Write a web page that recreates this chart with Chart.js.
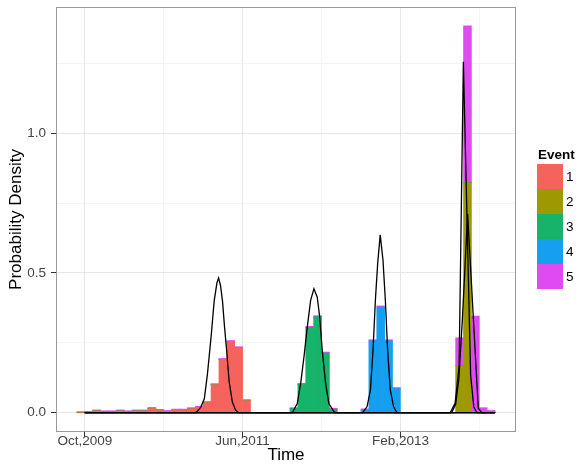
<!DOCTYPE html>
<html>
<head>
<meta charset="utf-8">
<title>Probability density by event</title>
<script src="https://cdn.jsdelivr.net/npm/chart.js@4.4.1/dist/chart.umd.min.js"></script>
<style>
  html, body { margin: 0; padding: 0; background: #fff; overflow: hidden; }
  #wrap { position: relative; width: 577px; height: 472px; }
  #legend { position: absolute; left: 537px; top: 146px; font-family: 'Liberation Sans', Arial, sans-serif; color: #000; }
  #legend .title { font-weight: bold; font-size: 13.5px; line-height: 18px; margin-left: 1px; }
  #legend .row { display: flex; align-items: center; height: 25px; }
  #legend .key { width: 26px; height: 25px; }
  #legend .lab { font-size: 13.5px; margin-left: 3px; }
</style>
</head>
<body>
<div id="wrap">
  <canvas id="chart" width="577" height="472"></canvas>
  <div id="legend"></div>
</div>
<script>
// Histogram bins: one month wide, months counted from Oct 2009 (bin k covers k..k+1)
const binStart = [-1, 0, 1, 2, 3, 4, 5, 6, 7, 8, 9, 10, 11, 12, 13, 14, 15, 16, 17, 18, 19, 20,
                  21, 22, 23, 24, 25,
                  26, 27, 28, 29, 30, 31,
                  32, 33, 34,
                  35, 36, 37, 38, 39,
                  40, 41, 42, 43, 44, 45, 46,
                  47, 48, 49, 50, 51];

// Stacked bar heights per event (probability density)
const event1 = [0, 0.001, 0.006, 0.003, 0.003, 0.006, 0.003, 0.006, 0.006, 0.015, 0.008, 0.004, 0.009, 0.009, 0.014, 0.019, 0.036, 0.100, 0.190, 0.254, 0.232, 0.043,
                0, 0, 0, 0, 0,
                0, 0, 0, 0, 0, 0,
                0, 0, 0,
                0, 0, 0, 0, 0,
                0, 0, 0, 0, 0, 0, 0,
                0, 0, 0, 0, 0];
const event2 = [0, 0, 0, 0, 0, 0, 0, 0, 0, 0, 0, 0, 0, 0, 0, 0, 0, 0, 0, 0, 0, 0,
                0, 0, 0, 0, 0,
                0, 0, 0, 0, 0, 0,
                0, 0, 0,
                0, 0, 0, 0, 0,
                0, 0, 0, 0, 0, 0, 0,
                0.168, 0.823, 0, 0, 0];
const event3 = [0, 0, 0, 0, 0, 0, 0, 0, 0, 0, 0, 0, 0, 0, 0, 0, 0, 0, 0, 0, 0, 0,
                0, 0, 0, 0, 0,
                0.014, 0.101, 0.305, 0.343, 0.213, 0.012,
                0, 0, 0,
                0, 0, 0, 0, 0,
                0, 0, 0, 0, 0, 0, 0,
                0, 0, 0, 0, 0];
const event4 = [0, 0, 0, 0, 0, 0, 0, 0, 0, 0, 0, 0, 0, 0, 0, 0, 0, 0, 0, 0, 0, 0,
                0, 0, 0, 0, 0,
                0, 0, 0, 0, 0, 0,
                0, 0, 0,
                0.010, 0.257, 0.378, 0.257, 0.086,
                0, 0, 0, 0, 0, 0, 0,
                0, 0, 0, 0, 0];
const event5 = [0.004, 0.004, 0.004, 0.004, 0.004, 0.004, 0.004, 0.004, 0.004, 0.004, 0.004, 0.004, 0.004, 0.004, 0.004, 0.004, 0.004, 0.004, 0.004, 0.004, 0.004, 0.004,
                0, 0, 0, 0, 0,
                0.004, 0.004, 0.004, 0.004, 0.004, 0.004,
                0, 0, 0,
                0.004, 0.004, 0.004, 0.004, 0.004,
                0, 0, 0, 0, 0, 0, 0,
                0.100, 0.561, 0.346, 0.018, 0.008];

const eventNames = ['1', '2', '3', '4', '5'];
const eventColors = ['#F5645C', '#9C9A00', '#18B36B', '#149FF0', '#DF4BF1'];

// Fitted density curves (month, density)
const dens1Month = [0, 14.0, 14.3, 14.7, 15.15, 15.55, 16.0, 16.4, 16.75, 16.96, 17.2, 17.45, 17.7, 17.97, 18.3, 18.7, 19.1, 19.5, 52];
const dens1Value = [0, 0, 0.006, 0.02, 0.05, 0.14, 0.27, 0.40, 0.465, 0.482, 0.455, 0.40, 0.31, 0.225, 0.11, 0.038, 0.01, 0, 0];
const dens2Month = [0, 46.3, 46.5, 46.93, 47.44, 47.98, 48.9, 49.3, 49.7, 52];
const dens2Value = [0, 0, 0.01, 0.034, 0.165, 1.255, 0.134, 0.02, 0, 0];
const dens3Month = [0, 26.3, 26.93, 27.36, 27.78, 28.2, 28.62, 29.04, 29.46, 29.77, 30.09, 30.52, 30.93, 31.57, 31.8, 52];
const dens3Value = [0, 0, 0.033, 0.105, 0.20, 0.307, 0.402, 0.443, 0.413, 0.343, 0.224, 0.105, 0.033, 0.004, 0, 0];
const dens4Month = [0, 35.2, 35.77, 36.2, 36.53, 36.83, 37.12, 37.44, 37.79, 38.09, 38.38, 38.72, 39.14, 39.55, 52];
const dens4Value = [0, 0, 0.021, 0.081, 0.224, 0.403, 0.534, 0.636, 0.546, 0.403, 0.224, 0.081, 0.021, 0, 0];
const dens5Month = [0, 46.5, 47.0, 47.4, 47.85, 48.52, 49.87, 50.3, 52];
const dens5Value = [0, 0, 0.03, 0.12, 0.331, 0.711, 0.016, 0, 0];

// Axes
const xRange = [-3.65, 54.65];
const xMajor = [0, 20, 40];
const xMajorLabels = ['Oct,2009', 'Jun,2011', 'Feb,2013'];
const xMinor = [10, 30, 50];
const yRange = [-0.069, 1.451];
const yMajor = [0, 0.5, 1.0];
const yMajorLabels = ['0.0', '0.5', '1.0'];
const yMinor = [0.25, 0.75, 1.25];

const FONT = "'Liberation Sans', Arial, Helvetica, sans-serif";
const GRID_MAJOR = '#e6e6e6';
const GRID_MINOR = '#f4f4f4';

const barSeries = [event1, event2, event3, event4, event5];
const densSeries = [[dens1Month, dens1Value], [dens2Month, dens2Value], [dens3Month, dens3Value],
                    [dens4Month, dens4Value], [dens5Month, dens5Value]];

const datasets = [];
densSeries.forEach(([months, values], i) => {
    datasets.push({
        type: 'line',
        label: 'density ' + eventNames[i],
        data: months.map((m, j) => ({ x: m, y: values[j] })),
        borderColor: '#000',
        borderWidth: 1.3,
        pointRadius: 0,
        tension: 0,
        fill: false,
        stack: 'dens' + i,
        order: 0
    });
});
barSeries.forEach((values, i) => {
    datasets.push({
        type: 'bar',
        label: eventNames[i],
        data: binStart.map((b, j) => ({ x: b + 0.5, y: values[j] })),
        backgroundColor: eventColors[i],
        borderWidth: 0,
        barPercentage: 1,
        categoryPercentage: 1,
        stack: 'hist',
        order: 1
    });
});

// grey frame round the plotting panel
const panelFrame = {
    id: 'panelFrame',
    afterDatasetsDraw(chart) {
        const { ctx, chartArea: a } = chart;
        ctx.save();
        ctx.strokeStyle = '#999';
        ctx.lineWidth = 1;
        ctx.strokeRect(Math.round(a.left) + 0.5, Math.round(a.top) + 0.5,
                       Math.round(a.right - a.left) - 1, Math.round(a.bottom - a.top) - 1);
        ctx.restore();
    }
};

new Chart(document.getElementById('chart'), {
    type: 'bar',
    data: { datasets },
    plugins: [panelFrame],
    options: {
        responsive: false,
        devicePixelRatio: 1,
        animation: false,
        layout: { padding: { left: 0, top: 7, right: 61, bottom: 0 } },
        plugins: { legend: { display: false }, tooltip: { enabled: false } },
        scales: {
            x: {
                type: 'linear',
                min: xRange[0],
                max: xRange[1],
                offset: false,
                afterBuildTicks: s => {
                    s.ticks = xMajor.concat(xMinor).sort((a, b) => a - b).map(v => ({ value: v }));
                },
                afterFit: s => {
                    s.height = 40;
                    s.paddingLeft = 0;
                    s.paddingRight = 0;
                },
                ticks: {
                    autoSkip: false,
                    maxRotation: 0,
                    padding: -4,
                    color: '#444',
                    font: { family: FONT, size: 13.5 },
                    callback: v => {
                        const i = xMajor.indexOf(v);
                        return i < 0 ? '' : xMajorLabels[i];
                    }
                },
                grid: {
                    offset: false,
                    color: c => (c.tick && xMajor.includes(c.tick.value)) ? GRID_MAJOR : GRID_MINOR,
                    tickColor: c => (c.tick && xMajor.includes(c.tick.value)) ? '#333' : 'rgba(0,0,0,0)',
                    tickLength: 5
                },
                border: { display: false },
                title: {
                    display: true,
                    text: 'Time',
                    color: '#000',
                    font: { family: FONT, size: 17 },
                    padding: { top: 0, bottom: 6 }
                }
            },
            y: {
                type: 'linear',
                min: yRange[0],
                max: yRange[1],
                afterBuildTicks: s => {
                    s.ticks = yMajor.concat(yMinor).sort((a, b) => a - b).map(v => ({ value: v }));
                },
                afterFit: s => {
                    s.width = 56;
                    s.paddingTop = 0;
                    s.paddingBottom = 0;
                },
                ticks: {
                    autoSkip: false,
                    padding: 5,
                    color: '#444',
                    font: { family: FONT, size: 13.5 },
                    callback: v => {
                        const i = yMajor.indexOf(v);
                        return i < 0 ? '' : yMajorLabels[i];
                    }
                },
                grid: {
                    color: c => (c.tick && yMajor.includes(c.tick.value)) ? GRID_MAJOR : GRID_MINOR,
                    tickColor: c => (c.tick && yMajor.includes(c.tick.value)) ? '#333' : 'rgba(0,0,0,0)',
                    tickLength: 5
                },
                border: { display: false },
                title: {
                    display: true,
                    text: 'Probability Density',
                    color: '#000',
                    font: { family: FONT, size: 17 },
                    padding: { top: 6, bottom: 0 }
                }
            }
        }
    }
});

// Legend (ggplot style: stacked keys under a bold title)
const legend = document.getElementById('legend');
const title = document.createElement('div');
title.className = 'title';
title.textContent = 'Event';
legend.appendChild(title);
eventNames.forEach((name, i) => {
    const row = document.createElement('div');
    row.className = 'row';
    const key = document.createElement('div');
    key.className = 'key';
    key.style.background = eventColors[i];
    const lab = document.createElement('span');
    lab.className = 'lab';
    lab.textContent = name;
    row.appendChild(key);
    row.appendChild(lab);
    legend.appendChild(row);
});
</script>
</body>
</html>
